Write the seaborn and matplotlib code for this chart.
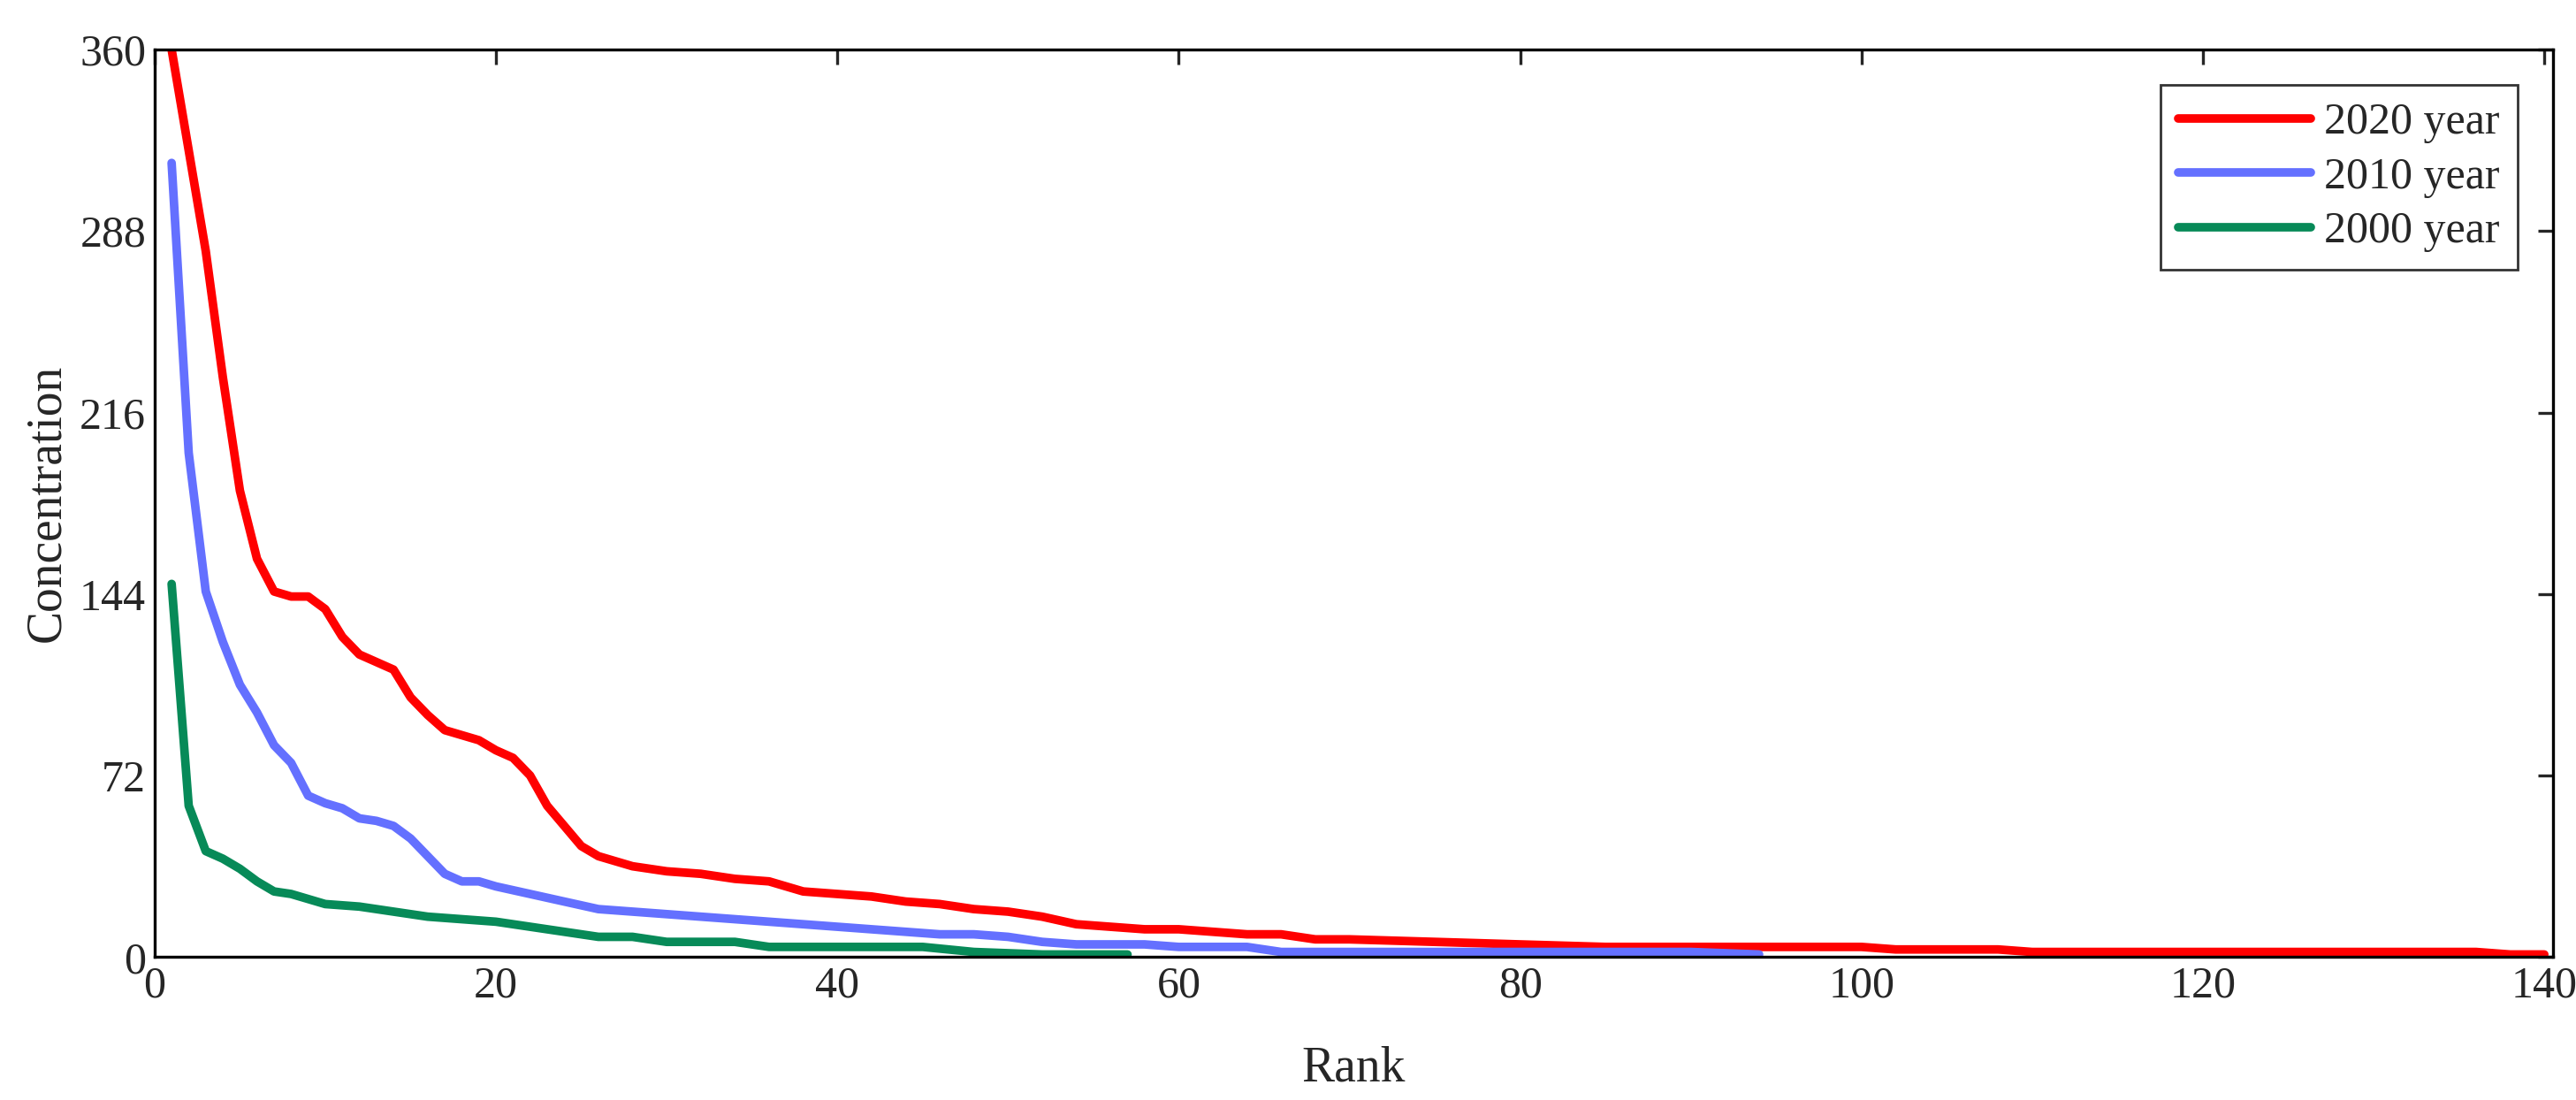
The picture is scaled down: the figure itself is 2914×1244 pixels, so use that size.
import numpy as np
import pandas as pd
import matplotlib
matplotlib.use("Agg")
import matplotlib.pyplot as plt
import seaborn as sns

rank_2020 = [1, 2, 3, 4, 5, 6, 7, 8, 9, 10, 11, 12, 13, 14, 15, 16, 17, 18, 19, 20, 21, 22, 23, 24, 25, 26, 27, 28,
             30, 32, 34, 36, 38, 40, 42, 44, 46, 48, 50, 52, 54, 56, 58, 60, 62, 64, 66, 68, 70, 75, 80, 85, 90,
             95, 100, 102, 108, 110, 120, 130, 136, 138, 140]
conc_2020 = [360, 320, 280, 230, 185, 158, 145, 143, 143, 138, 127, 120, 117, 114, 103, 96, 90, 88, 86, 82, 79, 72,
             60, 52, 44, 40, 38, 36, 34, 33, 31, 30, 26, 25, 24, 22, 21, 19, 18, 16, 13, 12, 11, 11, 10, 9, 9, 7,
             7, 6, 5, 4, 4, 4, 4, 3, 3, 2, 2, 2, 2, 1, 1]

rank_2010 = [1, 2, 3, 4, 5, 6, 7, 8, 9, 10, 11, 12, 13, 14, 15, 16, 17, 18, 19, 20, 22, 24, 26, 28, 30, 32, 34, 36,
             38, 40, 42, 44, 46, 48, 50, 52, 54, 56, 58, 60, 64, 66, 70, 80, 90, 94]
conc_2010 = [315, 200, 145, 125, 108, 97, 84, 77, 64, 61, 59, 55, 54, 52, 47, 40, 33, 30, 30, 28, 25, 22, 19, 18,
             17, 16, 15, 14, 13, 12, 11, 10, 9, 9, 8, 6, 5, 5, 5, 4, 4, 2, 2, 2, 2, 1]

rank_2000 = [1, 2, 3, 4, 5, 6, 7, 8, 9, 10, 12, 14, 16, 18, 20, 22, 24, 26, 28, 30, 34, 36, 40, 45, 48, 52, 57]
conc_2000 = [148, 60, 42, 39, 35, 30, 26, 25, 23, 21, 20, 18, 16, 15, 14, 12, 10, 8, 8, 6, 6, 4, 4, 4, 2, 1, 1]

series = [("2020 year", rank_2020, conc_2020, "#ff0000"),
          ("2010 year", rank_2010, conc_2010, "#6470ff"),
          ("2000 year", rank_2000, conc_2000, "#078a58")]

sns.set_style("white")
plt.rcParams["font.family"] = ["Liberation Serif", "DejaVu Serif"]

fig, ax = plt.subplots(figsize=(14.57, 6.22), dpi=200)
for label, r, c, col in series:
    df = pd.DataFrame({"Rank": r, "Concentration": c})
    sns.lineplot(data=df, x="Rank", y="Concentration", ax=ax, color=col, linewidth=3.5, label=label,
                 solid_joinstyle="round", solid_capstyle="round")

ax.set_xlim(0, 140.5)
ax.set_ylim(0, 360)
ax.set_xticks(range(0, 141, 20))
ax.set_yticks(range(0, 361, 72))
ax.tick_params(direction="in", top=True, right=True, labelsize=18, length=6, width=1.2)
for s in ax.spines.values():
    s.set_linewidth(1.2)
    s.set_color("black")
ax.set_xlabel("Rank", fontsize=20, labelpad=16)
ax.set_ylabel("Concentration", fontsize=20)
leg = ax.legend(loc="upper right", fontsize=18, frameon=True, fancybox=False, edgecolor="black",
                handlelength=3.0, handletextpad=0.3, borderaxespad=0.8, labelspacing=0.3)
leg.get_frame().set_linewidth(1.0)

fig.subplots_adjust(left=0.060, right=0.991, top=0.955, bottom=0.13)
fig.savefig("out.png", dpi=200)
